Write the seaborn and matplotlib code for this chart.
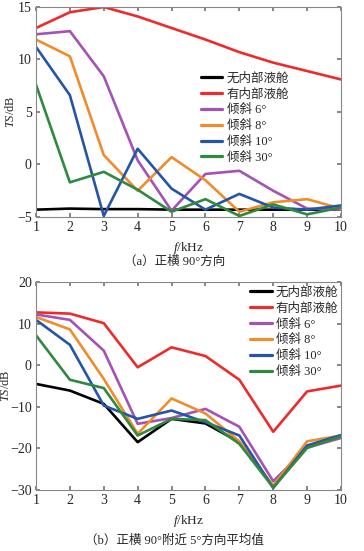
import matplotlib
matplotlib.use("Agg")
import matplotlib.pyplot as plt
import numpy as np
import pandas as pd
import seaborn as sns

freq = [1, 2, 3, 4, 5, 6, 7, 8, 9, 10]
labels = ["无内部液舱", "有内部液舱", "倾斜 6°", "倾斜 8°", "倾斜 10°", "倾斜 30°"]
colors = ["#000000", "#EE2B2B", "#A552B5", "#F08C2C", "#2555A8", "#2F8A3E"]

# (a) broadside 90 deg
ts_a_none = [-4.3, -4.2, -4.25, -4.25, -4.3, -4.3, -4.3, -4.3, -4.3, -4.3]
ts_a_tank = [13.0, 14.5, 15.0, 14.1, 13.0, 11.9, 10.7, 9.7, 8.9, 8.1]
ts_a_6 = [12.4, 12.7, 8.4, 0.4, -4.4, -0.9, -0.6, -2.5, -4.2, -4.3]
ts_a_8 = [11.9, 10.3, 0.9, -2.5, 0.7, -1.5, -4.5, -3.6, -3.3, -4.2]
ts_a_10 = [11.2, 6.6, -4.9, 1.5, -2.3, -4.3, -2.8, -4.1, -4.3, -3.9]
ts_a_30 = [7.6, -1.7, -0.7, -2.4, -4.5, -3.3, -4.9, -3.8, -4.75, -4.1]

# (b) mean over 5 deg around broadside
ts_b_none = [-4.5, -6.1, -9.3, -18.5, -12.9, -14.0, -18.5, -29.2, -19.6, -17.0]
ts_b_tank = [12.7, 12.4, 10.1, -0.5, 4.3, 2.2, -3.5, -16.0, -6.3, -4.9]
ts_b_6 = [12.2, 10.9, 3.5, -14.1, -12.7, -10.5, -14.8, -27.9, -19.8, -17.5]
ts_b_8 = [11.6, 8.6, -3.3, -16.5, -8.0, -11.6, -18.3, -29.0, -18.3, -16.9]
ts_b_10 = [10.9, 4.9, -9.7, -12.9, -10.9, -13.7, -16.9, -29.5, -19.3, -16.8]
ts_b_30 = [7.2, -3.5, -5.5, -16.9, -12.9, -13.2, -18.9, -29.4, -19.9, -17.1]


def to_long(series):
    rows = []
    for lab, vals in zip(labels, series):
        for f, v in zip(freq, vals):
            rows.append({"f": f, "ts": v, "case": lab})
    return pd.DataFrame(rows)


df_a = to_long([ts_a_none, ts_a_tank, ts_a_6, ts_a_8, ts_a_10, ts_a_30])
df_b = to_long([ts_b_none, ts_b_tank, ts_b_6, ts_b_8, ts_b_10, ts_b_30])

sns.set_theme(style="ticks")
plt.rcParams["font.family"] = ["Liberation Serif", "Noto Sans CJK SC"]
plt.rcParams["mathtext.fontset"] = "custom"
plt.rcParams["mathtext.rm"] = "Liberation Serif"
plt.rcParams["mathtext.it"] = "Liberation Serif:italic"
plt.rcParams["axes.unicode_minus"] = True

fig = plt.figure(figsize=(3.64, 5.51), dpi=100)
W, H = 364, 551
ax_a = fig.add_axes([36 / W, 1 - 217 / H, 305 / W, 210 / H])
ax_b = fig.add_axes([36 / W, 1 - 490 / H, 305 / W, 208 / H])


def style(ax, df, ylim, yticks, legend_loc, ylab_x):
    sns.lineplot(data=df, x="f", y="ts", hue="case", hue_order=labels,
                 palette=colors, linewidth=1.9, ax=ax, legend=True)
    ax.set_xlim(1, 10)
    ax.set_ylim(*ylim)
    ax.set_xticks(freq)
    ax.set_yticks(yticks)
    ax.tick_params(direction="in", top=True, right=True, labelsize=10,
                   length=3, color="#777777", pad=3)
    for s in ax.spines.values():
        s.set_color("#888888")
        s.set_linewidth(0.8)
    ax.set_xlabel(r"$f$/kHz", fontsize=9.5, labelpad=4)
    ax.set_ylabel(r"$TS$/dB", fontsize=9)
    ax.yaxis.set_label_coords(ylab_x, 0.5)
    leg = ax.legend(loc="upper left", bbox_to_anchor=legend_loc, frameon=False,
                    fontsize=9, handlelength=1.7, handletextpad=0.35,
                    labelspacing=0.3, borderpad=0.2)
    for h in leg.get_lines():
        h.set_linewidth(2.3)


style(ax_a, df_a, (-5, 15), [-5, 0, 5, 10, 15], (0.513, 0.73), -0.062)
style(ax_b, df_b, (-30, 20), [-30, -20, -10, 0, 10, 20], (0.674, 1.02), -0.079)

fig.text(0.48, 1 - 262 / H, "（a）正横 90°方向", ha="center", va="center", fontsize=9)
fig.text(0.48, 1 - 541 / H, "（b）正横 90°附近 5°方向平均值", ha="center", va="center", fontsize=9)

fig.savefig("out.png", dpi=100)
